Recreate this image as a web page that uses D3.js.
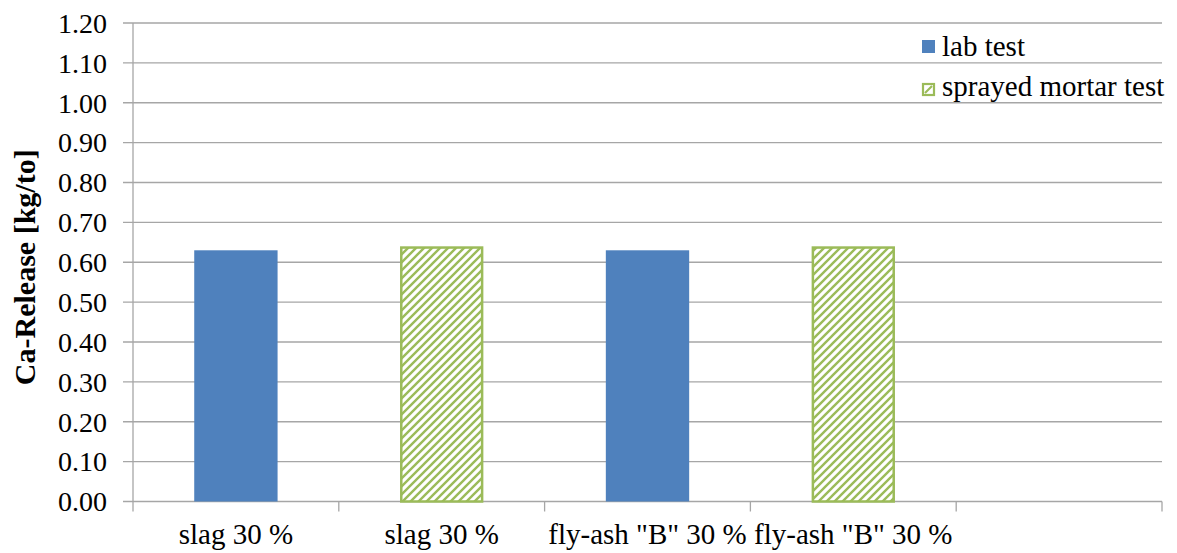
<!DOCTYPE html>
<html>
<head>
<meta charset="utf-8">
<script src="https://cdn.jsdelivr.net/npm/d3@7"></script>
<style>
  html, body { margin: 0; padding: 0; background: #fff; }
  svg { display: block; }
  text { font-family: "Liberation Serif", "Times New Roman", Times, "DejaVu Serif", serif; }
</style>
</head>
<body>
<svg id="chart" width="1177" height="553"></svg>
<script>
// ---- data ----
const categories = ["slag 30 %", "slag 30 %", 'fly-ash "B" 30 %', 'fly-ash "B" 30 %', ""];
const labTest = [0.63, null, 0.63, null, null];
const sprayedTest = [null, 0.64, null, 0.64, null];
const seriesNames = ["lab test", "sprayed mortar test"];
const yTicks = [0, 0.1, 0.2, 0.3, 0.4, 0.5, 0.6, 0.7, 0.8, 0.9, 1.0, 1.1, 1.2];
const yLabel = "Ca-Release [kg/to]";

// ---- layout ----
const mLeft = 133, mRight = 1162, mTop = 23, mBottom = 501.5;
const blue = "#4F81BD", green = "#9BBB59", grid = "#A6A6A6";
const serif = '"Liberation Serif", "Times New Roman", Times, serif';

const svg = d3.select("#chart");
const defs = svg.append("defs");
const pat = defs.append("pattern")
  .attr("id", "hatch").attr("patternUnits", "userSpaceOnUse")
  .attr("width", 8).attr("height", 8);
pat.append("rect").attr("width", 8).attr("height", 8).attr("fill", "#fff");
pat.append("path").attr("d", "M-2,2 L2,-2 M0,8 L8,0 M6,10 L10,6")
  .attr("stroke", green).attr("stroke-width", 2.4).attr("fill", "none");

const x = d3.scaleBand().domain(d3.range(categories.length)).range([mLeft, mRight]).padding(0);
const y = d3.scaleLinear().domain([0, 1.2]).range([mBottom, mTop]);

// gridlines
svg.append("g").selectAll("line").data(yTicks).join("line")
  .attr("x1", mLeft - 10).attr("x2", mRight)
  .attr("y1", d => y(d)).attr("y2", d => y(d))
  .attr("stroke", grid).attr("stroke-width", 1.3);

// y axis line
svg.append("line").attr("x1", mLeft).attr("x2", mLeft).attr("y1", mTop).attr("y2", mBottom)
  .attr("stroke", grid).attr("stroke-width", 1.3);

// y tick labels
svg.append("g").selectAll("text").data(yTicks).join("text")
  .attr("x", mLeft - 26).attr("y", d => y(d))
  .attr("dy", "0.35em")
  .attr("text-anchor", "end")
  .attr("font-family", serif)
  .attr("font-size", 28).attr("fill", "#000")
  .text(d => d3.format(".2f")(d));

// x ticks at band boundaries
const boundaries = d3.range(categories.length + 1).map(i => mLeft + i * x.bandwidth());
svg.append("g").selectAll("line").data(boundaries).join("line")
  .attr("x1", d => d).attr("x2", d => d)
  .attr("y1", mBottom).attr("y2", mBottom + 10)
  .attr("stroke", grid).attr("stroke-width", 1.3);

// category labels
svg.append("g").selectAll("text").data(categories).join("text")
  .attr("x", (d, i) => x(i) + x.bandwidth() / 2)
  .attr("y", 544)
  .attr("text-anchor", "middle")
  .attr("font-family", serif)
  .attr("font-size", 29).attr("fill", "#000")
  .text(d => d);

// bars
const bw = x.bandwidth() * 0.405;
const labData = labTest.map((v, i) => ({ i, v })).filter(d => d.v != null);
const sprData = sprayedTest.map((v, i) => ({ i, v })).filter(d => d.v != null);

svg.append("g").selectAll("rect").data(labData).join("rect")
  .attr("x", d => x(d.i) + (x.bandwidth() - bw) / 2)
  .attr("y", d => y(d.v))
  .attr("width", bw)
  .attr("height", d => y(0) - y(d.v))
  .attr("fill", blue);

svg.append("g").selectAll("rect").data(sprData).join("rect")
  .attr("x", d => x(d.i) + (x.bandwidth() - bw) / 2 + 1.25)
  .attr("y", d => y(d.v) + 1.25)
  .attr("width", bw - 2.5)
  .attr("height", d => y(0) - y(d.v) - 1.25)
  .attr("fill", "url(#hatch)")
  .attr("stroke", green).attr("stroke-width", 2.5);

// y label
svg.append("text")
  .attr("transform", `translate(35,${(mTop + mBottom) / 2 + 5}) rotate(-90)`)
  .attr("text-anchor", "middle")
  .attr("font-family", serif)
  .attr("font-size", 30).attr("font-weight", "bold").attr("fill", "#000")
  .text(yLabel);

// legend
const lg = svg.append("g");
const lgY = [40, 83];
lg.append("rect").attr("x", 922).attr("y", lgY[0]).attr("width", 13).attr("height", 13).attr("fill", blue);
lg.append("rect").attr("x", 923).attr("y", lgY[1] + 1).attr("width", 11).attr("height", 11)
  .attr("fill", "#fff").attr("stroke", green).attr("stroke-width", 2.2);
lg.append("line").attr("x1", 925).attr("y1", lgY[1] + 10).attr("x2", 932).attr("y2", lgY[1] + 3)
  .attr("stroke", green).attr("stroke-width", 2.2);
lg.selectAll("text").data(seriesNames).join("text")
  .attr("x", 942).attr("y", (d, i) => [56, 96][i])
  .attr("font-family", serif)
  .attr("font-size", 29).attr("fill", "#000")
  .text(d => d);
</script>
</body>
</html>
